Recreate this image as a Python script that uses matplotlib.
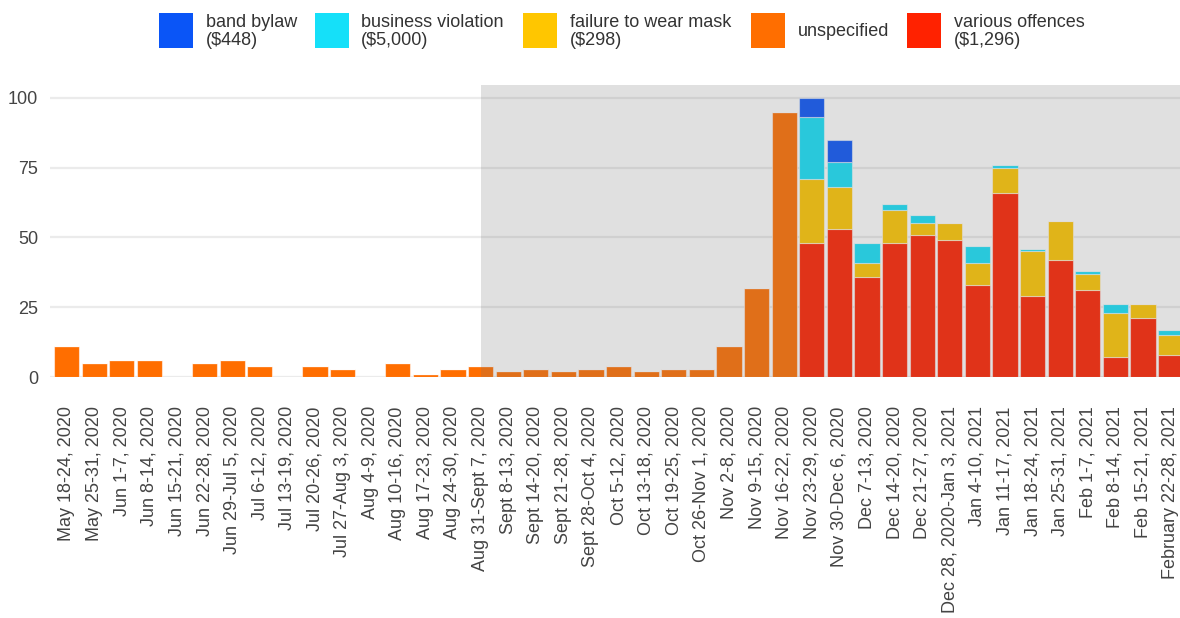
import matplotlib
matplotlib.use("Agg")
import matplotlib.pyplot as plt
from matplotlib.patches import Rectangle
import numpy as np

plt.rcParams['font.family'] = ['Liberation Sans', 'DejaVu Sans']

weeks = ["May 18-24, 2020", "May 25-31, 2020", "Jun 1-7, 2020", "Jun 8-14, 2020",
         "Jun 15-21, 2020", "Jun 22-28, 2020", "Jun 29-Jul 5, 2020", "Jul 6-12, 2020",
         "Jul 13-19, 2020", "Jul 20-26, 2020", "Jul 27-Aug 3, 2020", "Aug 4-9, 2020",
         "Aug 10-16, 2020", "Aug 17-23, 2020", "Aug 24-30, 2020", "Aug 31-Sept 7, 2020",
         "Sept 8-13, 2020", "Sept 14-20, 2020", "Sept 21-28, 2020", "Sept 28-Oct 4, 2020",
         "Oct 5-12, 2020", "Oct 13-18, 2020", "Oct 19-25, 2020", "Oct 26-Nov 1, 2020",
         "Nov 2-8, 2020", "Nov 9-15, 2020", "Nov 16-22, 2020", "Nov 23-29, 2020",
         "Nov 30-Dec 6, 2020", "Dec 7-13, 2020", "Dec 14-20, 2020", "Dec 21-27, 2020",
         "Dec 28, 2020-Jan 3, 2021", "Jan 4-10, 2021", "Jan 11-17, 2021", "Jan 18-24, 2021",
         "Jan 25-31, 2021", "Feb 1-7, 2021", "Feb 8-14, 2021", "Feb 15-21, 2021",
         "February 22-28, 2021"]

unspecified = [11, 5, 6, 6, 0, 5, 6, 4, 0, 4, 3, 0, 5, 1, 3, 4,
               2, 3, 2, 3, 4, 2, 3, 3, 11, 32, 95,
               0, 0, 0, 0, 0, 0, 0, 0, 0, 0, 0, 0, 0, 0]
various_offences = [0] * 27 + [48, 53, 36, 48, 51, 49, 33, 66, 29, 42, 31, 7, 21, 8]
failure_to_wear_mask = [0] * 27 + [23, 15, 5, 12, 4, 6, 8, 9, 16, 14, 6, 16, 5, 7]
business_violation = [0] * 27 + [22, 9, 7, 2, 3, 0, 6, 1, 1, 0, 1, 3, 0, 2]
band_bylaw = [0] * 27 + [7, 8, 0, 0, 0, 0, 0, 0, 0, 0, 0, 0, 0, 0]

legend_labels = ["band bylaw\n($448)", "business violation\n($5,000)",
                 "failure to wear mask\n($298)", "unspecified", "various offences\n($1,296)"]
legend_colors = ["#0a55f7", "#15e0f9", "#ffc600", "#ff6e00", "#ff2200"]

y_ticks = [0, 25, 50, 75, 100]

W, H = 1180, 618
fig = plt.figure(figsize=(W / 100, H / 100), dpi=100)
ax = fig.add_axes([50 / W, 1 - 377 / H, 1 - 50 / W, (377 - 85) / H])

x = np.arange(len(weeks))
bw = 0.91
edge = dict(edgecolor=(1, 1, 1, 0.55), linewidth=0.8)

series = [
    (unspecified, "#ff6e00"),
    (various_offences, "#ff2200"),
    (failure_to_wear_mask, "#ffc600"),
    (business_violation, "#15e0f9"),
    (band_bylaw, "#0a55f7"),
]
bottom = np.zeros(len(weeks))
for vals, col in series:
    v = np.array(vals, dtype=float)
    ax.bar(x, v, bw, bottom=bottom, color=col, zorder=3, **edge)
    bottom += v

ax.set_xlim(-0.6, 40.34)
ax.set_ylim(0, 104.6)

# shaded region overlay
ax.axvspan(15.0, 41, ymin=0, ymax=1, color="#747474", alpha=0.22, zorder=4, lw=0)

ax.set_yticks(y_ticks)
ax.set_yticklabels([str(t) for t in y_ticks])
ax.yaxis.grid(True, color="#ebebeb", linewidth=1.6, zorder=1)
ax.set_axisbelow(True)
for s in ax.spines.values():
    s.set_visible(False)
ax.tick_params(axis='y', length=0, pad=8.5, labelsize=13, labelcolor="#444444")
ax.set_xticks(x)
ax.set_xticklabels(weeks, rotation=90, ha='center', va='top')
ax.tick_params(axis='x', length=0, pad=21, labelsize=13, labelcolor="#444444")

# legend (manual, in pixel coordinates)
patch_x = [159, 315, 523, 751, 907]
text_x = [206, 361, 570, 798, 954]
for px, tx, lab, col in zip(patch_x, text_x, legend_labels, legend_colors):
    fig.patches.append(Rectangle((px / W, 1 - 48 / H), 34 / W, 35 / H,
                                 transform=fig.transFigure, facecolor=col,
                                 edgecolor='none'))
    fig.text(tx / W, 1 - 31.5 / H, lab, ha='left', va='center', fontsize=13,
             color="#333333", linespacing=1.08)

fig.savefig("out.png", dpi=100)
